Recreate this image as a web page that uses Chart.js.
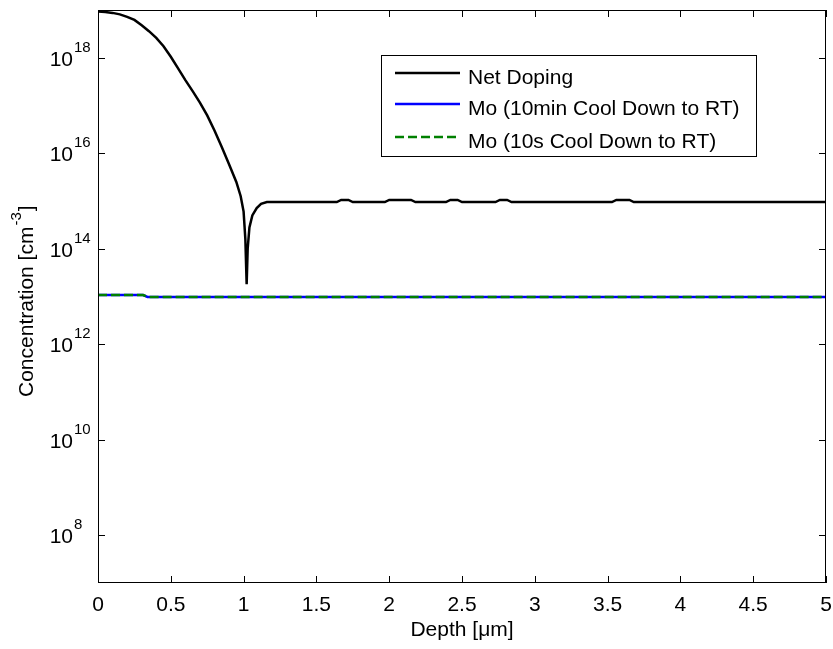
<!DOCTYPE html>
<html>
<head>
<meta charset="utf-8">
<script src="https://cdn.jsdelivr.net/npm/chart.js@4.4.1/dist/chart.umd.min.js"></script>
<style>
  body { margin: 0; background: #fff; }
</style>
</head>
<body>
<canvas id="line-chart-doping" width="833" height="649"></canvas>
<script>
// Net doping profile
const dopingDepth = [0, 0.05, 0.1, 0.15, 0.2, 0.25, 0.3, 0.35, 0.4, 0.45, 0.5, 0.55, 0.6, 0.65, 0.7, 0.75, 0.8, 0.85, 0.9, 0.95, 0.98, 1.0, 1.012, 1.021, 1.028, 1.04, 1.06, 1.09, 1.12, 1.16, 1.2, 1.64, 1.67, 1.72, 1.75, 1.97, 2.0, 2.15, 2.18, 2.39, 2.42, 2.47, 2.5, 2.73, 2.76, 2.81, 2.84, 3.53, 3.56, 3.65, 3.68, 5]
const dopingConc = [9.3e18, 9.1e18, 8.7e18, 8.1e18, 7.2e18, 6.2e18, 4.8e18, 3.6e18, 2.6e18, 1.74e18, 1.05e18, 6.0e17, 3.4e17, 2.0e17, 1.15e17, 6.2e16, 3.0e16, 1.35e16, 5.9e15, 2.5e15, 1.26e15, 6.0e14, 1.6e14, 1.8e13, 1.0e14, 2.8e14, 5.0e14, 7.1e14, 8.7e14, 9.5e14, 9.5e14, 9.5e14, 1.05e15, 1.05e15, 9.5e14, 9.5e14, 1.05e15, 1.05e15, 9.5e14, 9.5e14, 1.05e15, 1.05e15, 9.5e14, 9.5e14, 1.05e15, 1.05e15, 9.5e14, 9.5e14, 1.05e15, 1.05e15, 9.5e14, 9.5e14]

// Mo profiles
const moDepth = [0, 0.31, 0.34, 5]
const mo10min = [1.07e13, 1.07e13, 9.8e12, 9.8e12]
const mo10s = [1.07e13, 1.07e13, 9.8e12, 9.8e12]

// axes
const xTicks = [0, 0.5, 1, 1.5, 2, 2.5, 3, 3.5, 4, 4.5, 5]
const xTickLabels = ['0', '0.5', '1', '1.5', '2', '2.5', '3', '3.5', '4', '4.5', '5']
const yTickExp = [8, 10, 12, 14, 16, 18]
const seriesNames = ['Net Doping', 'Mo (10min Cool Down to RT)', 'Mo (10s Cool Down to RT)']

const toPoints = (xs, ys) => xs.map((v, i) => ({ x: v, y: ys[i] }))

const FONT = '"Liberation Sans", Arial, Helvetica, sans-serif'

// draws the matlab style box, ticks, labels and legend
const matlabLook = {
    id: 'matlabLook',
    afterDraw(chart) {
        const ctx = chart.ctx
        const a = chart.chartArea
        const xs = chart.scales.x
        const ys = chart.scales.y
        ctx.save()
        ctx.strokeStyle = '#000'
        ctx.fillStyle = '#000'
        ctx.lineWidth = 1

        // box
        ctx.strokeRect(a.left + 0.5, a.top + 0.5, a.right - a.left - 1, a.bottom - a.top - 1)

        // tick marks
        ctx.beginPath()
        xTicks.forEach(v => {
            const px = Math.round(xs.getPixelForValue(v)) + 0.5
            ctx.moveTo(px, a.bottom); ctx.lineTo(px, a.bottom - 7)
            ctx.moveTo(px, a.top); ctx.lineTo(px, a.top + 7)
        })
        yTickExp.forEach(e => {
            const py = Math.round(ys.getPixelForValue(Math.pow(10, e))) + 0.5
            ctx.moveTo(a.left, py); ctx.lineTo(a.left + 7, py)
            ctx.moveTo(a.right, py); ctx.lineTo(a.right - 7, py)
        })
        ctx.stroke()

        // x tick labels
        ctx.font = '21px ' + FONT
        ctx.textAlign = 'center'
        ctx.textBaseline = 'alphabetic'
        xTicks.forEach((v, i) => {
            ctx.fillText(xTickLabels[i], xs.getPixelForValue(v), 611)
        })

        // y tick labels 10^n
        yTickExp.forEach(e => {
            const py = ys.getPixelForValue(Math.pow(10, e))
            ctx.font = '21px ' + FONT
            ctx.textAlign = 'right'
            ctx.fillText('10', 73, py + 8)
            ctx.font = '15px ' + FONT
            ctx.textAlign = 'left'
            ctx.fillText(String(e), 74, py - 6)
        })

        // x title
        ctx.font = '21px ' + FONT
        ctx.textAlign = 'center'
        ctx.fillText('Depth [μm]', (a.left + a.right) / 2, 636)

        // y title
        ctx.save()
        ctx.translate(33, 397)
        ctx.rotate(-Math.PI / 2)
        ctx.textAlign = 'left'
        ctx.font = '21px ' + FONT
        const t1 = 'Concentration [cm'
        ctx.fillText(t1, 0, 0)
        let w = ctx.measureText(t1).width + 1
        ctx.font = '15px ' + FONT
        ctx.fillText('-3', w, -12)
        w += ctx.measureText('-3').width + 1
        ctx.font = '21px ' + FONT
        ctx.fillText(']', w, 0)
        ctx.restore()

        // legend
        ctx.fillStyle = '#fff'
        ctx.fillRect(381, 55, 376, 102)
        ctx.strokeStyle = '#000'
        ctx.lineWidth = 1
        ctx.strokeRect(381.5, 55.5, 375, 101)
        const rows = [73, 104, 137]
        const colors = ['#000000', '#0000ff', '#008000']
        rows.forEach((ry, i) => {
            ctx.beginPath()
            ctx.strokeStyle = colors[i]
            ctx.lineWidth = 2.5
            ctx.setLineDash(i === 2 ? [9, 4] : [])
            ctx.moveTo(395, ry); ctx.lineTo(460, ry)
            ctx.stroke()
            ctx.setLineDash([])
            ctx.fillStyle = '#000'
            ctx.font = '21px ' + FONT
            ctx.textAlign = 'left'
            ctx.fillText(seriesNames[i], 468, ry + 11)
        })
        ctx.restore()
    }
}

new Chart(document.getElementById('line-chart-doping'), {
    type: 'line',
    data: {
        datasets: [
            {
                label: seriesNames[0],
                data: toPoints(dopingDepth, dopingConc),
                borderColor: '#000000',
                borderWidth: 2.5,
                pointRadius: 0,
                fill: false,
                order: 3
            },
            {
                label: seriesNames[1],
                data: toPoints(moDepth, mo10min),
                borderColor: '#0000ff',
                borderWidth: 2.5,
                pointRadius: 0,
                fill: false,
                order: 2
            },
            {
                label: seriesNames[2],
                data: toPoints(moDepth, mo10s),
                borderColor: '#008000',
                borderWidth: 2.5,
                borderDash: [9, 4],
                pointRadius: 0,
                fill: false,
                order: 1
            }
        ]
    },
    options: {
        responsive: false,
        animation: false,
        devicePixelRatio: 1,
        layout: { padding: { top: 10, right: 7, left: 0, bottom: 0 } },
        plugins: {
            legend: { display: false },
            tooltip: { enabled: false }
        },
        scales: {
            x: {
                type: 'linear',
                min: 0,
                max: 5,
                ticks: { display: false },
                grid: { display: false },
                border: { display: false },
                afterFit: s => { s.height = 66 }
            },
            y: {
                type: 'logarithmic',
                min: 1e7,
                max: 1e19,
                ticks: { display: false },
                grid: { display: false },
                border: { display: false },
                afterFit: s => { s.width = 98 }
            }
        }
    },
    plugins: [matlabLook]
});
</script>
</body>
</html>
